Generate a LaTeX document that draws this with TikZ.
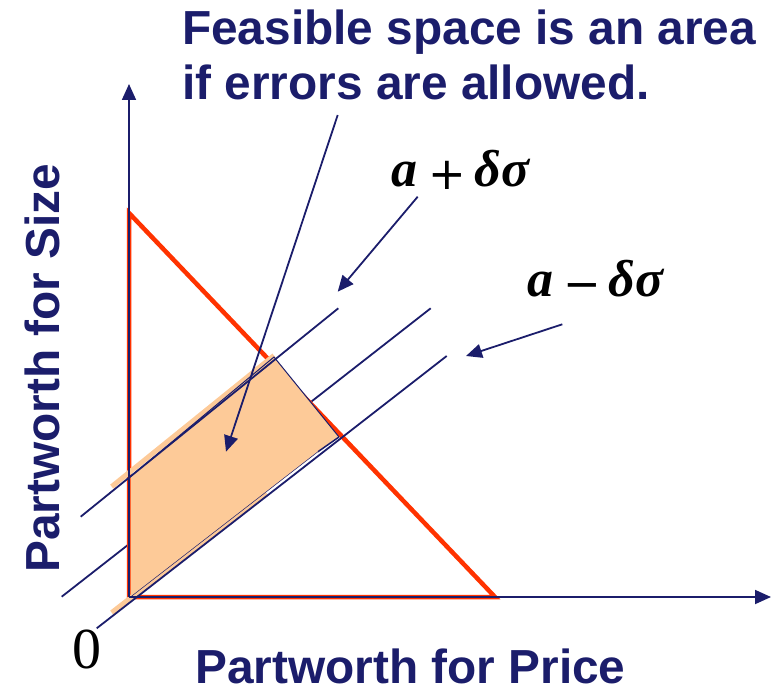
\documentclass[tikz,border=0pt]{standalone}
\usepackage{fontspec}
\setmainfont{Liberation Serif}
\newfontfamily\lsans{Liberation Sans}
\newfontfamily\dvs{DejaVu Sans}
\usetikzlibrary{arrows.meta}
\definecolor{navy}{RGB}{27,29,107}
\definecolor{redl}{RGB}{255,51,0}
\definecolor{peach}{RGB}{253,202,152}
\newcommand{\bigop}[1]{\raisebox{-3pt}{\dvs\mdseries\upshape\fontsize{45}{45}\selectfont #1}}
\begin{document}
\begin{tikzpicture}[x=1pt,y=-1pt,
  bl/.style={draw=navy,line width=1.8pt},
  tipA/.style={-{Triangle[length=16pt,width=14pt]}},
  lbl/.style={font=\lsans\bfseries\fontsize{47.8}{55}\selectfont,text=navy,inner sep=0pt},
  mlbl/.style={font=\fontsize{52}{55}\selectfont,text=black,inner sep=0pt,anchor=base west,text depth=0pt},
  stripe/.style={draw=peach,line width=5pt},
  redtri/.style={draw=redl,line width=4.5pt}]
\useasboundingbox (0,0) rectangle (775,692);
% key points
\coordinate (O) at (129,597);
\coordinate (ytop) at (129,84);
\coordinate (xend) at (771,597);
\coordinate (T) at (129,213);
\coordinate (R) at (495,597);
\coordinate (A1) at (80.7,516.7);  \coordinate (A2) at (338.3,308.3);
\coordinate (B1) at (61.7,596.7);  \coordinate (B2) at (430.7,308.3);
\coordinate (C1) at (96.7,628.3);  \coordinate (C2) at (446.7,356);
\coordinate (F1) at (130.5,476.4); \coordinate (F2) at (274,357);
\coordinate (F3) at (339,437);     \coordinate (F4) at (318,451.7);
\coordinate (F5) at (130.5,597);
\coordinate (S1) at (111.7,486.6); \coordinate (S2) at (274,355.5);
\coordinate (S3) at (111.7,612.6); \coordinate (S4) at (266,492.6);
% middle constraint line (partly hidden)
\draw[bl] (B1) -- (B2);
% red triangle
\draw[redtri] (T) -- (R) -- (O) -- cycle;
% orange edges of feasible area
\draw[stripe] (S1) -- (S2);
\draw[stripe] (S3) -- (S4);
% feasible area
\fill[peach] (F1) -- (F2) -- (F3) -- (F4) -- (F5) -- cycle;
\draw[navy,line width=1pt] (F1) -- (F2) -- (F3);
\draw[navy,line width=1.5pt] (F3) -- (F4);
\draw[navy,line width=0.5pt] (F4) -- (F5);
% axes
\draw[bl,tipA] (O) -- (ytop);
\draw[bl,tipA] (O) -- (xend);
% constraint lines
\draw[bl] (A1) -- (A2);
\draw[bl] (C1) -- (C2);
% texts
\node[lbl,anchor=base west] (t1) at (182,45) {Feasible space is an area};
\node[lbl,anchor=base west] (t2) at (182,100) {if errors are allowed.};
\node[lbl,anchor=base west,rotate=90] (ylab) at (59,573) {Partworth for Size};
\node[lbl,anchor=base west,text depth=0pt] (xlab) at (195,683) {Partworth for Price};
\node[mlbl,font=\fontsize{58}{60}\selectfont] (zero) at (72,668) {0};
\node[mlbl] (ap) at (391,186.7) {\bfseries\itshape a\kern11pt\bigop{+}\kern9pt\bfseries\itshape δσ};
\node[mlbl] (am) at (527,296.7) {\bfseries\itshape a\kern10pt\bigop{−}\kern8pt\bfseries\itshape δσ};
% callout arrows
\coordinate (c1s) at (337.7,115);  \coordinate (c1e) at (226,451.7);
\coordinate (c2s) at (417.7,196.7); \coordinate (c2e) at (337.7,291.7);
\coordinate (c3s) at (562.3,324.3); \coordinate (c3e) at (466,356);
\draw[bl,tipA] (c1s) -- (c1e);
\draw[bl,tipA] (c2s) -- (c2e);
\draw[bl,tipA] (c3s) -- (c3e);
\end{tikzpicture}
\end{document}
